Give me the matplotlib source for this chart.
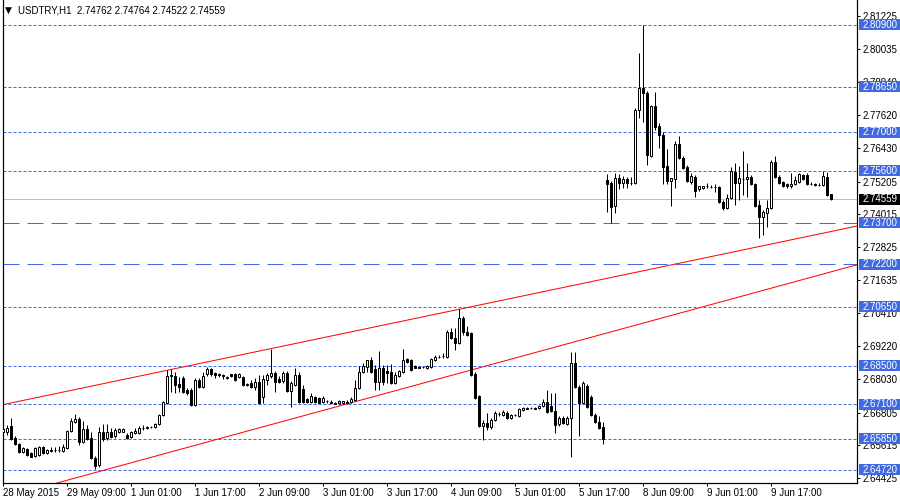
import numpy as np
import matplotlib
matplotlib.use("Agg")
import matplotlib.pyplot as plt
from matplotlib.patches import Rectangle
from matplotlib.transforms import blended_transform_factory

plt.rcParams['font.family'] = ['Liberation Sans', 'DejaVu Sans']

# USDTRY H1 bars, 28 May 2015 - 9 Jun 2015
opens = [
    2.6609, 2.6609, 2.6630, 2.6587, 2.6565, 2.6536, 2.6547, 2.6532, 2.6521, 2.6525,
    2.6554, 2.6532, 2.6543, 2.6543, 2.6543, 2.6539, 2.6550, 2.6612, 2.6645, 2.6656,
    2.6572, 2.6619, 2.6587, 2.6514, 2.6488, 2.6609, 2.6587, 2.6609, 2.6594, 2.6609,
    2.6609, 2.6598, 2.6590, 2.6605, 2.6605, 2.6623, 2.6623, 2.6627, 2.6627, 2.6638,
    2.6670, 2.6714, 2.6812, 2.6812, 2.6783, 2.6805, 2.6761, 2.6761, 2.6707, 2.6798,
    2.6772, 2.6820, 2.6838, 2.6823, 2.6820, 2.6816, 2.6805, 2.6820, 2.6820, 2.6809,
    2.6809, 2.6780, 2.6787, 2.6772, 2.6790, 2.6736, 2.6798, 2.6812, 2.6823, 2.6801,
    2.6794, 2.6823, 2.6758, 2.6780, 2.6816, 2.6765, 2.6729, 2.6718, 2.6736, 2.6732,
    2.6718, 2.6721, 2.6718, 2.6714, 2.6714, 2.6714, 2.6718, 2.6718, 2.6725, 2.6769,
    2.6827, 2.6845, 2.6871, 2.6838, 2.6790, 2.6841, 2.6830, 2.6827, 2.6787, 2.6812,
    2.6827, 2.6874, 2.6871, 2.6849, 2.6845, 2.6845, 2.6841, 2.6845, 2.6871, 2.6882,
    2.6885, 2.6882, 2.6973, 2.6951, 2.6932, 2.7023, 2.6973, 2.6969, 2.6820, 2.6740,
    2.6630, 2.6641, 2.6627, 2.6652, 2.6674, 2.6670, 2.6678, 2.6659, 2.6670, 2.6667,
    2.6689, 2.6696, 2.6696, 2.6696, 2.6696, 2.6703, 2.6718, 2.6703, 2.6685, 2.6638,
    2.6659, 2.6638, 2.6659, 2.6860, 2.6772, 2.6714, 2.6776, 2.6736, 2.6670, 2.6645,
    2.6627, 2.7526, 2.7515, 2.7431, 2.7533, 2.7515, 2.7529, 2.7515, 2.7515, 2.7781,
    2.7861, 2.7842, 2.7613, 2.7795, 2.7722, 2.7690, 2.7577, 2.7522, 2.7529, 2.7657,
    2.7606, 2.7573, 2.7519, 2.7537, 2.7493, 2.7497, 2.7504, 2.7500, 2.7500, 2.7500,
    2.7446, 2.7424, 2.7460, 2.7555, 2.7515, 2.7529, 2.7529, 2.7537, 2.7511, 2.7435,
    2.7391, 2.7406, 2.7424, 2.7591, 2.7537, 2.7519, 2.7511, 2.7504, 2.7511, 2.7519,
    2.7544, 2.7544, 2.7511, 2.7511, 2.7508, 2.7508, 2.7537, 2.74762]

highs = [
    2.6652, 2.6634, 2.6659, 2.6594, 2.6569, 2.6554, 2.6550, 2.6536, 2.6554, 2.6558,
    2.6558, 2.6547, 2.6554, 2.6554, 2.6558, 2.6565, 2.6616, 2.6659, 2.6674, 2.6663,
    2.6648, 2.6634, 2.6609, 2.6521, 2.6627, 2.6638, 2.6638, 2.6623, 2.6623, 2.6623,
    2.6623, 2.6605, 2.6612, 2.6623, 2.6630, 2.6634, 2.6630, 2.6630, 2.6641, 2.6674,
    2.6721, 2.6834, 2.6838, 2.6827, 2.6809, 2.6812, 2.6769, 2.6769, 2.6805, 2.6805,
    2.6827, 2.6845, 2.6841, 2.6827, 2.6823, 2.6820, 2.6812, 2.6821, 2.6823, 2.6823,
    2.6812, 2.6787, 2.6798, 2.6805, 2.6816, 2.6816, 2.6823, 2.6911, 2.6830, 2.6812,
    2.6830, 2.6830, 2.6794, 2.6841, 2.6827, 2.6780, 2.6732, 2.6750, 2.6740, 2.6736,
    2.6740, 2.6725, 2.6725, 2.6718, 2.6725, 2.6721, 2.6725, 2.6736, 2.6798, 2.6849,
    2.6860, 2.6871, 2.6882, 2.6852, 2.6903, 2.6852, 2.6852, 2.6856, 2.6827, 2.6834,
    2.6911, 2.6878, 2.6874, 2.6852, 2.6849, 2.6849, 2.6852, 2.6878, 2.6889, 2.6889,
    2.6896, 2.6980, 2.6987, 2.6987, 2.7056, 2.7030, 2.6994, 2.6973, 2.6827, 2.6743,
    2.6652, 2.6678, 2.6659, 2.6685, 2.6681, 2.6689, 2.6685, 2.6674, 2.6674, 2.6696,
    2.6699, 2.6699, 2.6699, 2.6699, 2.6707, 2.6729, 2.6761, 2.6750, 2.6750, 2.6667,
    2.6667, 2.6667, 2.6900, 2.6900, 2.6780, 2.6794, 2.6783, 2.6743, 2.6678, 2.6667,
    2.6645, 2.7548, 2.7522, 2.7551, 2.7548, 2.7540, 2.7537, 2.7537, 2.7788, 2.7988,
    2.8088, 2.7850, 2.7799, 2.7846, 2.7733, 2.7701, 2.7639, 2.7535, 2.7668, 2.7686,
    2.7613, 2.7580, 2.7551, 2.7544, 2.7506, 2.7504, 2.7515, 2.7508, 2.7511, 2.7504,
    2.7453, 2.7475, 2.7573, 2.7588, 2.7577, 2.7631, 2.7588, 2.7544, 2.7515, 2.7453,
    2.7417, 2.7453, 2.7599, 2.7613, 2.7544, 2.7522, 2.7515, 2.7551, 2.7540, 2.7551,
    2.7548, 2.7551, 2.7519, 2.7515, 2.7515, 2.7559, 2.7555, 2.74764]

lows = [
    2.6587, 2.6598, 2.6579, 2.6561, 2.6532, 2.6532, 2.6521, 2.6518, 2.6518, 2.6521,
    2.6529, 2.6529, 2.6536, 2.6536, 2.6536, 2.6536, 2.6547, 2.6609, 2.6641, 2.6561,
    2.6569, 2.6579, 2.6510, 2.6474, 2.6481, 2.6576, 2.6579, 2.6587, 2.6587, 2.6605,
    2.6609, 2.6583, 2.6587, 2.6601, 2.6601, 2.6616, 2.6619, 2.6623, 2.6623, 2.6634,
    2.6667, 2.6710, 2.6754, 2.6750, 2.6754, 2.6750, 2.6743, 2.6703, 2.6703, 2.6769,
    2.6769, 2.6812, 2.6812, 2.6805, 2.6809, 2.6801, 2.6801, 2.6809, 2.6794, 2.6805,
    2.6776, 2.6776, 2.6769, 2.6761, 2.6710, 2.6714, 2.6780, 2.6805, 2.6754, 2.6787,
    2.6787, 2.6754, 2.6699, 2.6776, 2.6714, 2.6714, 2.6714, 2.6714, 2.6714, 2.6714,
    2.6714, 2.6714, 2.6714, 2.6710, 2.6710, 2.6710, 2.6710, 2.6714, 2.6721, 2.6765,
    2.6823, 2.6827, 2.6823, 2.6761, 2.6761, 2.6780, 2.6787, 2.6783, 2.6783, 2.6809,
    2.6823, 2.6860, 2.6830, 2.6841, 2.6841, 2.6841, 2.6838, 2.6841, 2.6867, 2.6878,
    2.6878, 2.6878, 2.6947, 2.6907, 2.6929, 2.6962, 2.6958, 2.6812, 2.6729, 2.6627,
    2.6579, 2.6616, 2.6619, 2.6648, 2.6667, 2.6667, 2.6656, 2.6656, 2.6667, 2.6663,
    2.6685, 2.6692, 2.6692, 2.6692, 2.6692, 2.6699, 2.6678, 2.6681, 2.6605, 2.6630,
    2.6638, 2.6634, 2.6518, 2.6769, 2.6594, 2.6710, 2.6696, 2.6667, 2.6641, 2.6619,
    2.6565, 2.7409, 2.7369, 2.7406, 2.7493, 2.7497, 2.7497, 2.7508, 2.7511, 2.7751,
    2.7737, 2.7580, 2.7610, 2.7708, 2.7642, 2.7511, 2.7511, 2.7431, 2.7497, 2.7602,
    2.7566, 2.7519, 2.7511, 2.7464, 2.7486, 2.7493, 2.7497, 2.7497, 2.7482, 2.7442,
    2.7417, 2.7420, 2.7457, 2.7435, 2.7453, 2.7471, 2.7464, 2.7508, 2.7427, 2.7315,
    2.7326, 2.7355, 2.7420, 2.7533, 2.7511, 2.7500, 2.7497, 2.7497, 2.7508, 2.7515,
    2.7526, 2.7508, 2.7508, 2.7504, 2.7504, 2.7504, 2.7468, 2.74522]

closes = [
    2.6619, 2.6623, 2.6583, 2.6565, 2.6536, 2.6550, 2.6525, 2.6518, 2.6550, 2.6554,
    2.6532, 2.6543, 2.6542, 2.6544, 2.6543, 2.6554, 2.6612, 2.6648, 2.6656, 2.6572,
    2.6619, 2.6583, 2.6514, 2.6485, 2.6609, 2.6583, 2.6609, 2.6590, 2.6616, 2.6619,
    2.6619, 2.6587, 2.6609, 2.6612, 2.6623, 2.6624, 2.6627, 2.6628, 2.6638, 2.6670,
    2.6718, 2.6812, 2.6816, 2.6780, 2.6772, 2.6754, 2.6750, 2.6707, 2.6798, 2.6772,
    2.6812, 2.6838, 2.6820, 2.6816, 2.6817, 2.6812, 2.6809, 2.6812, 2.6798, 2.6820,
    2.6780, 2.6783, 2.6772, 2.6790, 2.6714, 2.6801, 2.6816, 2.6823, 2.6790, 2.6790,
    2.6823, 2.6758, 2.6787, 2.6816, 2.6718, 2.6718, 2.6718, 2.6740, 2.6718, 2.6717,
    2.6732, 2.6722, 2.6717, 2.6713, 2.6721, 2.6721, 2.6717, 2.6729, 2.6769, 2.6827,
    2.6849, 2.6870, 2.6827, 2.6790, 2.6841, 2.6790, 2.6823, 2.6787, 2.6816, 2.6830,
    2.6871, 2.6863, 2.6834, 2.6841, 2.6844, 2.6846, 2.6849, 2.6874, 2.6882, 2.6881,
    2.6886, 2.6973, 2.6951, 2.6932, 2.7023, 2.6973, 2.6962, 2.6816, 2.6732, 2.6630,
    2.6641, 2.6627, 2.6652, 2.6678, 2.6675, 2.6681, 2.6659, 2.6670, 2.6671, 2.6692,
    2.6696, 2.6695, 2.6697, 2.6695, 2.6703, 2.6718, 2.6681, 2.6685, 2.6634, 2.6659,
    2.6641, 2.6659, 2.6860, 2.6772, 2.6714, 2.6787, 2.6699, 2.6670, 2.6645, 2.6623,
    2.6583, 2.7511, 2.7427, 2.7533, 2.7515, 2.7529, 2.7515, 2.7514, 2.7781, 2.7861,
    2.7842, 2.7617, 2.7795, 2.7719, 2.7690, 2.7573, 2.7522, 2.7533, 2.7657, 2.7606,
    2.7570, 2.7522, 2.7540, 2.7486, 2.7504, 2.7503, 2.7505, 2.7501, 2.7499, 2.7446,
    2.7424, 2.7460, 2.7559, 2.7515, 2.7533, 2.7530, 2.7537, 2.7511, 2.7431, 2.7391,
    2.7409, 2.7424, 2.7591, 2.7537, 2.7515, 2.7504, 2.7504, 2.7511, 2.7526, 2.7548,
    2.7529, 2.7511, 2.7510, 2.7509, 2.7509, 2.7540, 2.7471, 2.74559]

time_ticks = [0, 16, 32, 48, 64, 80, 96, 112, 128, 144, 160, 176, 192]
time_labels = ["28 May 2015", "29 May 09:00", "1 Jun 01:00", "1 Jun 17:00",
               "2 Jun 09:00", "3 Jun 01:00", "3 Jun 17:00", "4 Jun 09:00",
               "5 Jun 01:00", "5 Jun 17:00", "8 Jun 09:00", "9 Jun 01:00",
               "9 Jun 17:00"]
price_ticks = [2.81225, 2.80035, 2.78840, 2.77620, 2.76430, 2.75205, 2.74015,
               2.72825, 2.71635, 2.70410, 2.69220, 2.68030, 2.66805, 2.65615,
               2.64425]
dot_levels = [2.80900, 2.78650, 2.77000, 2.75600, 2.70650, 2.68500, 2.67100,
              2.65850, 2.64720]
dash_levels = [2.73700, 2.72200]
bid = 2.74559
# trend line anchors (bar, price)
upper_trend = [(41, 2.6834), (114, 2.7056)]
lower_trend = [(23, 2.6462), (117, 2.6835)]

BLUE = '#4169E1'
PX = 0.72  # one pixel in points at dpi 100
FS = 7

fig = plt.figure(figsize=(9, 5), dpi=100)
ax = fig.add_axes([2.5 / 900, 17 / 500, 854.5 / 900, 483 / 500])
ax.set_xlim(-0.125, 213.5)
ax.set_ylim(2.64243, 2.81807)

for lv in dot_levels:
    ax.axhline(lv, color=BLUE, lw=PX, linestyle=(0, (3, 2)), zorder=1)
for lv in dash_levels:
    ax.axhline(lv, color=BLUE, lw=PX, linestyle=(0, (16, 8)), zorder=1)
ax.axhline(bid, color='#C0C0C0', lw=PX, zorder=1)

ax.axline(upper_trend[0], upper_trend[1], color='red', lw=PX, zorder=1.5)
ax.axline(lower_trend[0], lower_trend[1], color='red', lw=PX, zorder=1.5)

o = np.array(opens)
h = np.array(highs)
l = np.array(lows)
c = np.array(closes)
x = np.arange(len(o))
up = c >= o
ax.vlines(x, l, h, color='black', lw=PX, zorder=2)
ax.bar(x, np.abs(c - o), bottom=np.minimum(o, c), width=0.5,
       color=np.where(up, 'white', 'black'), edgecolor='black', linewidth=PX,
       zorder=3)

# axes styling
ax.spines['top'].set_visible(False)
for s in ['left', 'right', 'bottom']:
    ax.spines[s].set_linewidth(PX * 1.2)
ax.yaxis.tick_right()
ax.set_yticks(price_ticks)
ax.set_yticklabels(['%.5f' % p for p in price_ticks])
ax.set_xticks(time_ticks)
ax.set_xticklabels(time_labels, ha='left')
ax.tick_params(axis='y', direction='out', length=3 * PX, width=PX, pad=1.5,
               labelsize=FS, colors='black')
ax.tick_params(axis='x', direction='out', length=3 * PX, width=PX, pad=1.5,
               labelsize=FS, colors='black')

# price labels for the levels
tr = blended_transform_factory(fig.transFigure, ax.transData)
box_h = 11 / 2750
for lv in dot_levels + dash_levels:
    ax.add_patch(Rectangle((859 / 900, lv - box_h / 2), 41 / 900, box_h,
                           transform=tr, facecolor=BLUE, edgecolor='none',
                           clip_on=False, zorder=10))
    ax.text(862.5 / 900, lv, '%.5f' % lv, transform=tr, color='white',
            fontsize=FS, ha='left', va='center', clip_on=False, zorder=11)
ax.add_patch(Rectangle((859 / 900, bid - box_h / 2), 41 / 900, box_h,
                       transform=tr, facecolor='black', edgecolor='none',
                       clip_on=False, zorder=10))
ax.text(862.5 / 900, bid, '%.5f' % bid, transform=tr, color='white',
        fontsize=FS, ha='left', va='center', clip_on=False, zorder=11)

# header
fig.text(4.5 / 900, 1 - 10 / 500, '\u25BC', fontsize=6.5, va='center', ha='left',
         family='DejaVu Sans')
fig.text(18 / 900, 1 - 10.5 / 500,
         'USDTRY,H1  %.5f %.5f %.5f %.5f' % (opens[-1], highs[-1], lows[-1], closes[-1]),
         fontsize=FS, va='center', ha='left')

fig.savefig('out.png', dpi=100)
